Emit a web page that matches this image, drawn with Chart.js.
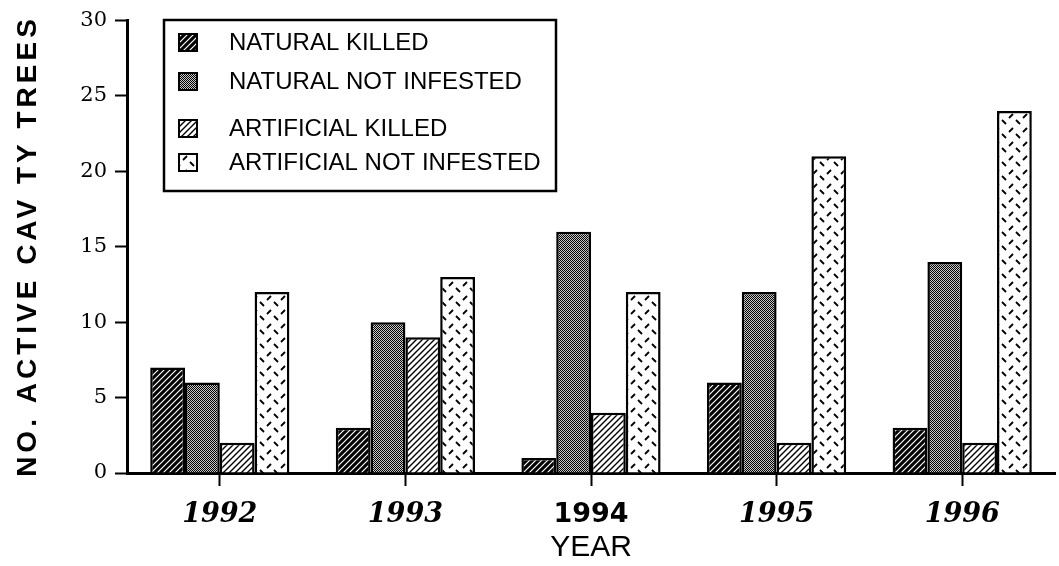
<!DOCTYPE html>
<html>
<head>
<meta charset="utf-8">
<script src="https://cdn.jsdelivr.net/npm/chart.js@4/dist/chart.umd.min.js"></script>
<style>
  body { margin: 0; background: #fff; }
  canvas { display: block; }
</style>
</head>
<body>
<canvas id="chart" width="1059" height="566"></canvas>
<script>
const years = ['1992', '1993', '1994', '1995', '1996'];
const seriesNames = ['NATURAL KILLED', 'NATURAL NOT INFESTED', 'ARTIFICIAL KILLED', 'ARTIFICIAL NOT INFESTED'];
const naturalKilled = [7, 3, 1, 6, 3];
const naturalNotInfested = [6, 10, 16, 12, 14];
const artificialKilled = [2, 9, 4, 2, 2];
const artificialNotInfested = [12, 13, 12, 21, 24];
const yMax = 30;
const yStep = 5;

const canvas = document.getElementById('chart');
const ctx = canvas.getContext('2d');

// --- fill patterns (scan-like hatching) ---
function makeTile(size, draw) {
    const c = document.createElement('canvas');
    c.width = size; c.height = size;
    const g = c.getContext('2d');
    draw(g, size);
    return ctx.createPattern(c, 'repeat');
}

const darkHatch = makeTile(6, (g, s) => {
    g.fillStyle = '#000'; g.fillRect(0, 0, s, s);
    g.strokeStyle = '#fff'; g.lineWidth = 1.2;
    g.beginPath();
    g.moveTo(-1, s + 1); g.lineTo(s + 1, -1);
    g.moveTo(-1, 1); g.lineTo(1, -1);
    g.moveTo(s - 1, s + 1); g.lineTo(s + 1, s - 1);
    g.stroke();
});

// checker dither, darker than mid grey
const dither = makeTile(2, (g) => {
    g.fillStyle = '#c8c8c8'; g.fillRect(0, 0, 2, 2);
    g.fillStyle = '#000'; g.fillRect(0, 0, 1, 1); g.fillRect(1, 1, 1, 1);
});

const lightHatch = makeTile(6, (g, s) => {
    g.fillStyle = '#fff'; g.fillRect(0, 0, s, s);
    g.strokeStyle = '#000'; g.lineWidth = 1.4;
    g.beginPath();
    g.moveTo(-1, s + 1); g.lineTo(s + 1, -1);
    g.moveTo(-1, 1); g.lineTo(1, -1);
    g.moveTo(s - 1, s + 1); g.lineTo(s + 1, s - 1);
    g.stroke();
});

const dashes = makeTile(14, (g, s) => {
    g.fillStyle = '#fff'; g.fillRect(0, 0, s, s);
    g.strokeStyle = '#000'; g.lineWidth = 1.8;
    g.beginPath();
    g.moveTo(1, 6); g.lineTo(5, 2);
    g.moveTo(8, 8); g.lineTo(12, 12);
    g.stroke();
});

const fills = [darkHatch, dither, lightHatch, dashes];
const values = [naturalKilled, naturalNotInfested, artificialKilled, artificialNotInfested];

// --- legend box and rotated y title, drawn by hand ---
const boxLegend = {
    id: 'boxLegend',
    afterDraw(chart) {
        const c = chart.ctx;
        c.save();
        c.fillStyle = '#fff';
        c.fillRect(163, 19, 394, 173);
        c.strokeStyle = '#000';
        c.lineWidth = 2.5;
        c.strokeRect(164, 20, 392, 171);

        const rows = [42, 81, 128, 162];
        c.font = '24px "Liberation Sans", Arial, sans-serif';
        c.textBaseline = 'middle';
        chart.data.datasets.forEach((ds, i) => {
            const y = rows[i];
            c.fillStyle = ds.backgroundColor;
            c.fillRect(178, y - 9, 20, 19);
            c.lineWidth = 2;
            c.strokeStyle = '#000';
            c.strokeRect(179, y - 8, 18, 17);
            c.fillStyle = '#000';
            c.fillText(ds.label, 229, y + 1);
        });

        // y axis title
        c.translate(28, 248);
        c.rotate(-Math.PI / 2);
        c.font = 'bold 28px "Liberation Sans", Arial, sans-serif';
        c.letterSpacing = '4px';
        c.textAlign = 'center';
        c.fillText('NO. ACTIVE CAV TY TREES', 2, 0);
        c.restore();
    }
};

new Chart(canvas, {
    type: 'bar',
    data: {
        labels: years,
        datasets: seriesNames.map((name, i) => ({
            label: name,
            data: values[i],
            backgroundColor: fills[i],
            borderColor: '#000',
            borderWidth: 2.5,
            borderSkipped: 'bottom',
            categoryPercentage: 0.75,
            barPercentage: 1
        }))
    },
    options: {
        responsive: false,
        animation: false,
        layout: { padding: { top: 13, right: 4, left: 0, bottom: 0 } },
        plugins: { legend: { display: false }, tooltip: { enabled: false } },
        scales: {
            x: {
                grid: { display: true, drawOnChartArea: false, offset: false, tickLength: 13, tickWidth: 2, tickColor: '#000' },
                border: { display: true, color: '#000', width: 3 },
                ticks: {
                    color: '#000',
                    padding: 13,
                    font: c => c.index === 2
                        ? { family: '"DejaVu Sans", sans-serif', size: 27, weight: 'bold' }
                        : { family: '"DejaVu Serif", serif', size: 27, style: 'italic', weight: 'bold' }
                },
                title: {
                    display: true,
                    text: 'YEAR',
                    color: '#000',
                    font: { family: '"Liberation Sans", Arial, sans-serif', size: 30 },
                    padding: 0
                },
                afterFit: s => { s.height = 93; }
            },
            y: {
                min: 0,
                max: yMax,
                grid: { display: true, drawOnChartArea: false, tickLength: 12, tickWidth: 2, tickColor: '#000' },
                border: { display: true, color: '#000', width: 3 },
                ticks: {
                    stepSize: yStep,
                    color: '#000',
                    padding: 8,
                    font: { family: '"DejaVu Serif", serif', size: 21 }
                },
                afterFit: s => { s.width = 127; }
            }
        }
    },
    plugins: [boxLegend]
});
</script>
</body>
</html>
